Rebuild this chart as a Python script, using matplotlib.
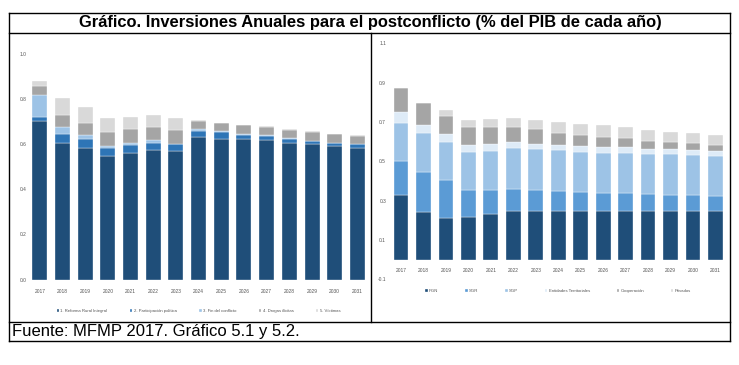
import matplotlib
matplotlib.use('Agg')
import matplotlib.pyplot as plt
from matplotlib.lines import Line2D
import numpy as np

plt.rcParams['font.family'] = ['Liberation Sans', 'DejaVu Sans']

# ---------------- data ----------------
years = ['2017', '2018', '2019', '2020', '2021', '2022', '2023', '2024',
         '2025', '2026', '2027', '2028', '2029', '2030', '2031']

left_labels = ['1. Reforma Rural Integral', '2. Participación política',
               '3. Fin del conflicto', '4. Drogas ilícitas', '5. Víctimas']
reforma_rural = [0.704, 0.607, 0.585, 0.548, 0.563, 0.575, 0.569, 0.633,
                 0.625, 0.621, 0.618, 0.607, 0.599, 0.590, 0.584]
participacion = [0.015, 0.037, 0.037, 0.034, 0.033, 0.032, 0.030, 0.026,
                 0.027, 0.022, 0.019, 0.018, 0.014, 0.014, 0.015]
fin_conflicto = [0.100, 0.033, 0.017, 0.011, 0.010, 0.011, 0.004, 0.008,
                 0.007, 0.004, 0.004, 0.003, 0.003, 0.002, 0.002]
drogas = [0.040, 0.053, 0.056, 0.062, 0.061, 0.059, 0.061, 0.037,
          0.033, 0.037, 0.036, 0.036, 0.039, 0.038, 0.036]
victimas = [0.020, 0.073, 0.069, 0.062, 0.054, 0.053, 0.050, 0.003,
            0.003, 0.003, 0.003, 0.002, 0.002, 0.002, 0.002]

right_labels = ['PGN', 'SGR', 'SGP', 'Entidades Territoriales',
                'Cooperación', 'Privados']
pgn = [0.328, 0.243, 0.213, 0.216, 0.232, 0.248, 0.248, 0.248,
       0.248, 0.248, 0.248, 0.248, 0.248, 0.248, 0.248]
sgr = [0.175, 0.201, 0.190, 0.138, 0.122, 0.112, 0.106, 0.101,
       0.094, 0.089, 0.089, 0.084, 0.082, 0.079, 0.075]
sgp = [0.193, 0.201, 0.193, 0.195, 0.200, 0.206, 0.207, 0.207,
       0.207, 0.207, 0.207, 0.205, 0.205, 0.205, 0.204]
entidades = [0.053, 0.041, 0.041, 0.032, 0.034, 0.034, 0.029, 0.025,
             0.027, 0.027, 0.027, 0.025, 0.027, 0.025, 0.024]
cooperacion = [0.122, 0.112, 0.095, 0.095, 0.085, 0.076, 0.073, 0.061,
               0.058, 0.052, 0.049, 0.041, 0.036, 0.034, 0.033]
privados = [0.000, 0.000, 0.027, 0.034, 0.044, 0.046, 0.047, 0.059,
            0.054, 0.060, 0.053, 0.054, 0.051, 0.051, 0.048]

left_yticks = [0.0, 0.2, 0.4, 0.6, 0.8, 1.0]
right_yticks = [-0.1, 0.1, 0.3, 0.5, 0.7, 0.9, 1.1]

title = 'Gráfico. Inversiones Anuales para el postconflicto (% del PIB de cada año)'
footer = 'Fuente: MFMP 2017. Gráfico 5.1 y 5.2.'

left_colors = ['#1f4e79', '#2e75b6', '#9dc3e6', '#a5a5a5', '#d9d9d9']
right_colors = ['#1f4e79', '#5b9bd5', '#9dc3e6', '#deebf7', '#a5a5a5', '#d9d9d9']

# ---------------- figure ----------------
W, H = 739, 365
fig = plt.figure(figsize=(W / 100, H / 100), dpi=100)


def fx(px):
    return px / W


def fy(py):
    return 1 - py / H


tick_color = '#555555'


def stacked(ax, series, labels, colors):
    x = np.arange(len(years))
    bottom = np.zeros(len(years))
    handles = []
    for vals, lab, col in zip(series, labels, colors):
        v = np.array(vals)
        b = ax.bar(x, v, width=0.66, bottom=bottom, color=col, label=lab,
                   edgecolor='white', linewidth=0.25)
        handles.append(b)
        bottom = bottom + v
    ax.set_xticks(x)
    ax.set_xticklabels(years)
    ax.set_xlim(-0.45, len(years) - 0.55)
    for s in ax.spines.values():
        s.set_visible(False)
    ax.tick_params(length=0, labelsize=3.5, colors=tick_color)
    return handles


# left chart
axL = fig.add_axes([fx(29.6), fy(279.5), fx(338), 225.5 / H])
hL = stacked(axL, [reforma_rural, participacion, fin_conflicto, drogas, victimas],
             left_labels, left_colors)
axL.set_ylim(0, 1.0)
axL.set_yticks(left_yticks)
axL.set_yticklabels([f'{t:.1f}' for t in left_yticks])
axL.tick_params(axis='x', pad=6.5)
axL.tick_params(axis='y', pad=2.5)
axL.legend(handles=hL, loc='center', bbox_to_anchor=(fx(198.5), fy(311)),
           bbox_transform=fig.transFigure, ncol=5, frameon=False,
           fontsize=3.1, labelcolor=tick_color, handlelength=0.6,
           handleheight=0.6, handletextpad=0.3, columnspacing=5.2,
           borderpad=0)

# right chart
axR = fig.add_axes([fx(390.9), fy(279.2), fx(334.6), 235.8 / H])
hR = stacked(axR, [pgn, sgr, sgp, entidades, cooperacion, privados],
             right_labels, right_colors)
axR.set_ylim(-0.1, 1.1)
axR.set_yticks(right_yticks)
axR.set_yticklabels([f'{t:.1f}' for t in right_yticks])
axR.spines['bottom'].set_position(('data', 0))
axR.tick_params(axis='x', pad=6.0)
axR.tick_params(axis='y', pad=3.5)
axR.legend(handles=hR, loc='center', bbox_to_anchor=(fx(558), fy(291)),
           bbox_transform=fig.transFigure, ncol=6, frameon=False,
           fontsize=3.1, labelcolor=tick_color, handlelength=0.6,
           handleheight=0.6, handletextpad=0.3, columnspacing=6.2,
           borderpad=0)

# ---------------- table frame ----------------
L, R = 9, 730
T, TB, CB, B = 13, 33, 322, 341
DIV = 371
lw = 1.0
for (x0, y0, x1, y1) in [(L, T, R, T), (L, TB, R, TB), (L, CB, R, CB),
                         (L, B, R, B), (L, T, L, B), (R, T, R, B),
                         (DIV, TB, DIV, CB)]:
    fig.add_artist(Line2D([fx(x0), fx(x1)], [fy(y0), fy(y1)],
                          color='black', linewidth=lw,
                          transform=fig.transFigure))

fig.text(fx(370), fy(23), title, ha='center', va='center',
         fontsize=11.9, fontweight='bold', color='black')
fig.text(fx(12), fy(331.5), footer, ha='left', va='center',
         fontsize=12, color='black')

fig.savefig('out.png', dpi=100)
